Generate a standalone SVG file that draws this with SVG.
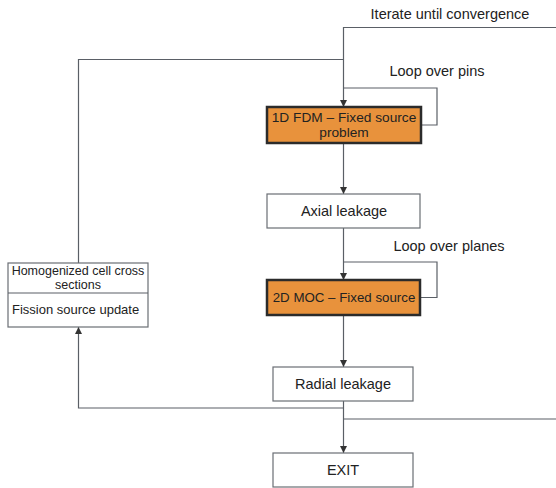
<svg xmlns="http://www.w3.org/2000/svg" width="556" height="488" viewBox="0 0 556 488">
<style>
.ln{fill:none;stroke:#5a5f66;stroke-width:1.2}
.box{fill:#fff;stroke:#6a6e74;stroke-width:1.2}
.hot{fill:#E8923C;stroke:#2b2b2b;stroke-width:2.5}
text{font-family:"Liberation Sans",Arial,sans-serif;font-size:14.5px;fill:#222}
.c{text-anchor:middle}
.s{font-size:13.3px}
.f{font-size:13.7px}
.t{font-size:12.5px}
.u{font-size:13px}
</style>
<defs>
<marker id="ah" viewBox="0 0 10 10" refX="10" refY="5" markerWidth="7" markerHeight="7" markerUnits="userSpaceOnUse" orient="auto">
<path d="M0,0L10,5L0,10z" fill="#333"/>
</marker>
</defs>
<g id="connectors">
<path class="ln" d="M556,27.5H343.5V107" marker-end="url(#ah)"/>
<path class="ln" d="M343.5,59.5H78.5V263"/>
<path class="ln" d="M343.5,88H437V125H421"/>
<path class="ln" d="M343.5,143V194" marker-end="url(#ah)"/>
<path class="ln" d="M343.5,228V280" marker-end="url(#ah)"/>
<path class="ln" d="M343.5,262H437V297.5H420"/>
<path class="ln" d="M343.5,315V367" marker-end="url(#ah)"/>
<path class="ln" d="M343.5,401V453" marker-end="url(#ah)"/>
<path class="ln" d="M343.5,408H78.5V327" marker-end="url(#ah)"/>
<path class="ln" d="M343.5,419H556"/>
<text x="450" y="19" class="c">Iterate until convergence</text>
<text x="437" y="76" class="c">Loop over pins</text>
<text x="449" y="251" class="c">Loop over planes</text>
</g>
<g id="fdm">
<rect class="hot" x="267" y="107" width="154" height="36"/>
<text x="344" y="122" class="c f">1D FDM – Fixed source</text>
<text x="344" y="137" class="c f">problem</text>
</g>
<g id="axial">
<rect class="box" x="267" y="194" width="153" height="34"/>
<text x="344" y="216" class="c">Axial leakage</text>
</g>
<g id="moc">
<rect class="hot" x="267" y="280" width="153" height="35"/>
<text x="344" y="302" class="c s">2D MOC – Fixed source</text>
</g>
<g id="radial">
<rect class="box" x="273" y="367" width="140" height="34"/>
<text x="343" y="389" class="c">Radial leakage</text>
</g>
<g id="exit">
<rect class="box" x="273" y="453" width="140" height="34"/>
<text x="343" y="475" class="c">EXIT</text>
</g>
<g id="update">
<rect class="box" x="8" y="263" width="140" height="64"/>
<line class="ln" x1="8" y1="293" x2="148" y2="293"/>
<text x="78" y="275" class="c t">Homogenized cell cross</text>
<text x="78" y="288.5" class="c t">sections</text>
<text x="12" y="314" class="u">Fission source update</text>
</g>
</svg>
